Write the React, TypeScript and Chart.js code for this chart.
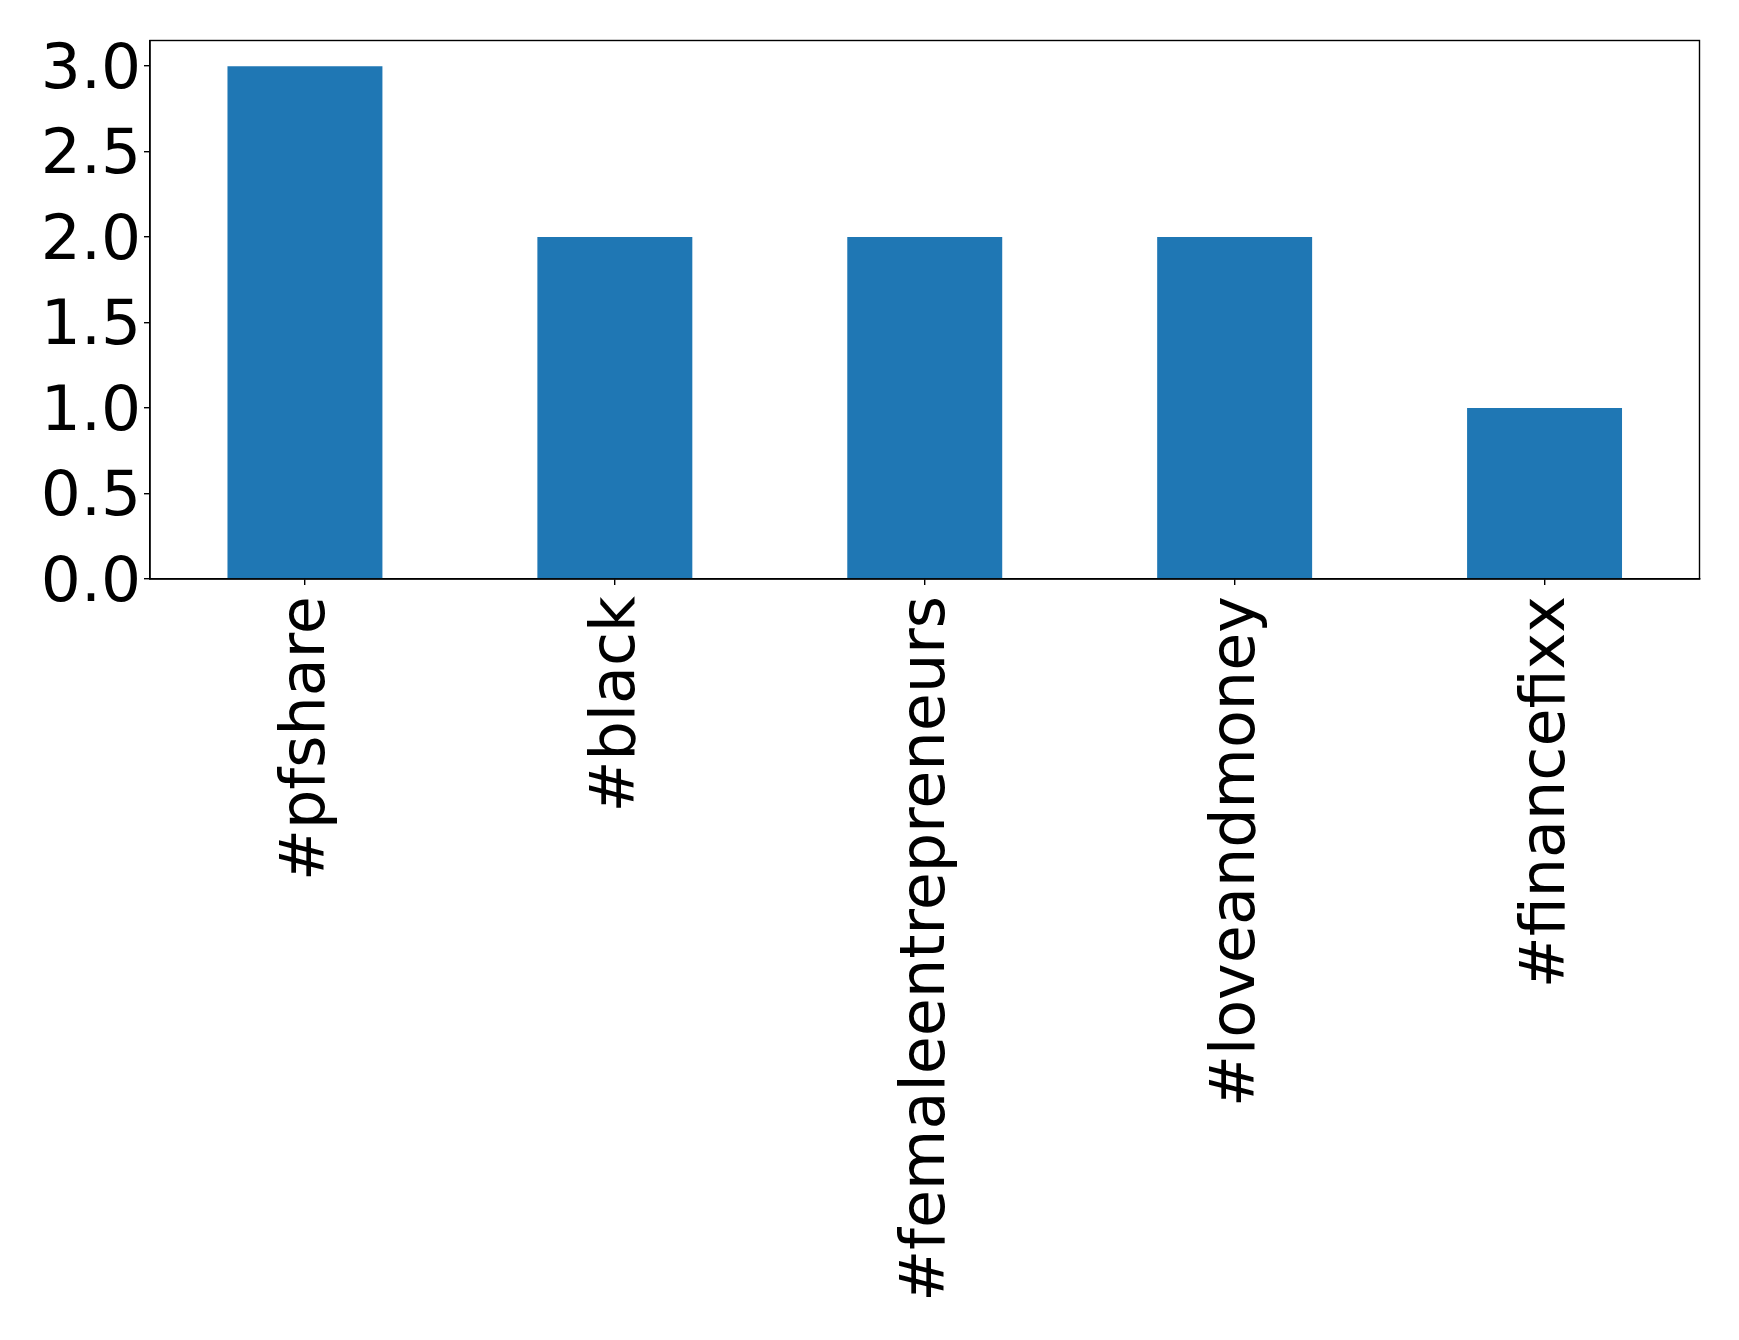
import React, { useEffect, useRef } from "react";
import { Chart, registerables } from "chart.js";

Chart.register(...registerables);

const categories = ["#pfshare", "#black", "#femaleentrepreneurs", "#loveandmoney", "#financefixx"];
const counts = [3, 2, 2, 2, 1];
const yTickStep = 0.5;
const yMax = 3.15;

const FONT = "'DejaVu Sans', sans-serif";

const boxPlugin = {
  id: "boxPlugin",
  afterDraw(chart: any) {
    const { ctx, chartArea } = chart;
    ctx.save();
    ctx.strokeStyle = "#000";
    ctx.lineWidth = 1.4;
    ctx.strokeRect(chartArea.left, chartArea.top, chartArea.right - chartArea.left, chartArea.bottom - chartArea.top);
    ctx.restore();
  },
};

export default function App() {
  const ref = useRef<HTMLCanvasElement | null>(null);
  useEffect(() => {
    document.body.style.margin = "0";
    const canvas = ref.current!;
    const chart = new Chart(canvas, {
      type: "bar",
      data: {
        labels: categories,
        datasets: [
          {
            data: counts,
            backgroundColor: "#1f77b4",
            borderWidth: 0,
            barPercentage: 0.5,
            categoryPercentage: 1,
          },
        ],
      },
      options: {
        animation: false,
        responsive: false,
        devicePixelRatio: 1,
        layout: { padding: { top: 40.5, right: 39.5, left: 0, bottom: 0 } },
        plugins: { legend: { display: false }, tooltip: { enabled: false } },
        scales: {
          x: {
            offset: true,
            grid: { display: true, offset: false, drawOnChartArea: false, drawTicks: true, tickLength: 6, color: "#000", lineWidth: 1.4 },
            border: { display: true, color: "#000", width: 1.4 },
            ticks: {
              autoSkip: false,
              maxRotation: 90,
              minRotation: 90,
              padding: 11,
              labelOffset: 3,
              color: "#000",
              font: { family: FONT, size: 62 },
            },
            afterFit(scale: any) {
              scale.height = 1340 - 579;
              scale.paddingLeft = 0;
              scale.paddingRight = 0;
            },
          },
          y: {
            min: 0,
            max: yMax,
            grid: { display: true, drawOnChartArea: false, drawTicks: true, tickLength: 6, color: "#000", lineWidth: 1.4 },
            border: { display: true, color: "#000", width: 1.4 },
            ticks: {
              stepSize: yTickStep,
              includeBounds: false,
              padding: 3,
              labelOffset: 5.5,
              color: "#000",
              font: { family: FONT, size: 63 },
              callback: (v: any) => Number(v).toFixed(1),
            },
            afterFit(scale: any) {
              scale.width = 150;
              scale.paddingTop = 0;
              scale.paddingBottom = 0;
            },
          },
        },
      },
      plugins: [boxPlugin],
    });
    return () => chart.destroy();
  }, []);
  return (
    <div style={{ width: 1739, height: 1340, background: "#fff" }}>
      <canvas ref={ref} width={1739} height={1340} style={{ display: "block" }} />
    </div>
  );
}
